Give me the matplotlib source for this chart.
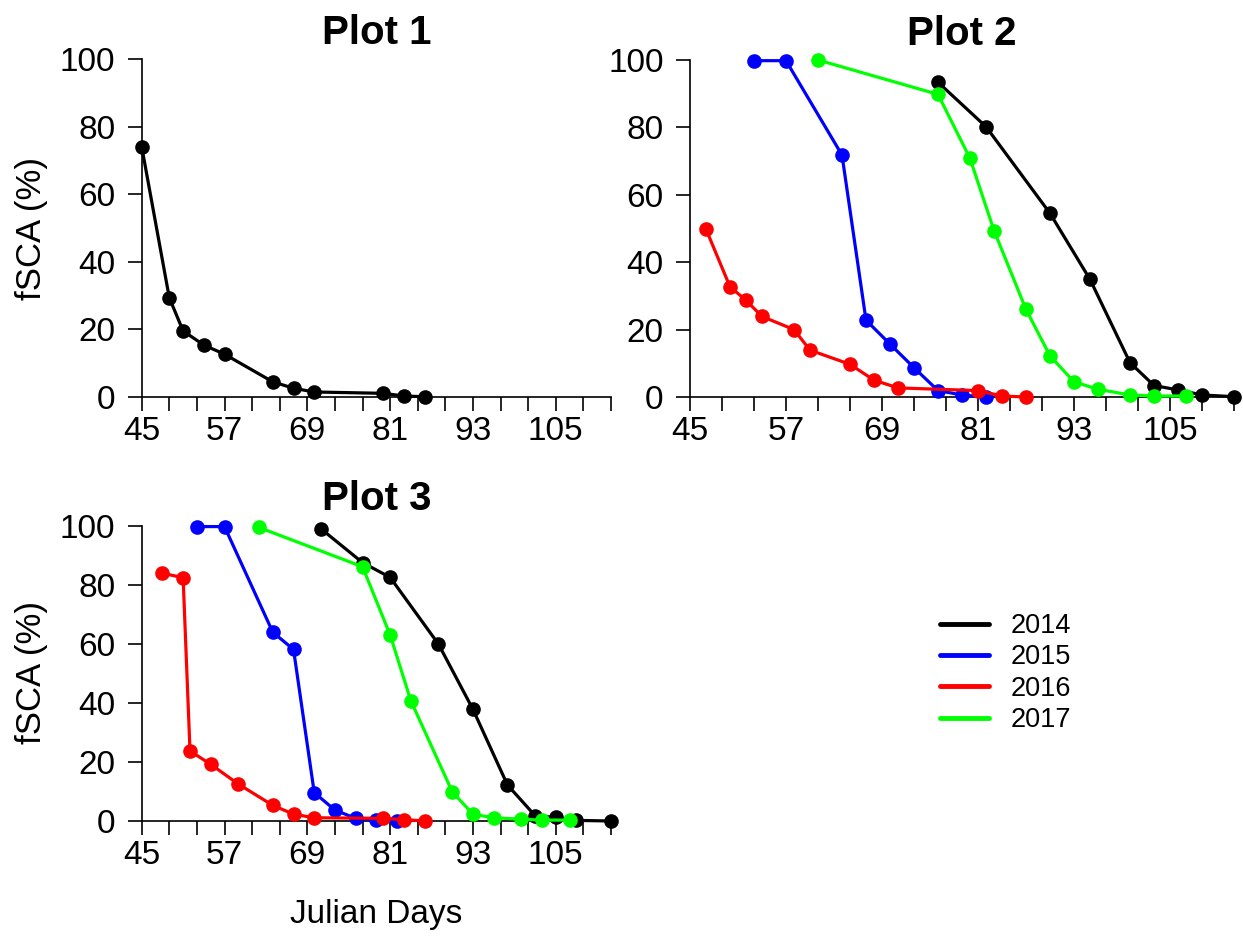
import matplotlib
matplotlib.use("Agg")
import matplotlib.pyplot as plt
from matplotlib.lines import Line2D

plt.rcParams['font.family'] = ['Liberation Sans', 'DejaVu Sans']

years = ["2014", "2015", "2016", "2017"]
colors = ["#000000", "#0000FF", "#FF0000", "#00FF00"]

# Plot 1 (only 2014)
p1_day = [45, 49, 51, 54, 57, 64, 67, 70, 80, 83, 86]
p1_fsca = [74.1, 29.3, 19.5, 15.3, 12.6, 4.4, 2.5, 1.4, 1.0, 0.2, 0.0]

# Plot 2
p2_2014_day = [76, 82, 90, 95, 100, 103, 106, 109, 113]
p2_2014_fsca = [93.4, 80.2, 54.5, 34.9, 10.2, 3.4, 2.1, 0.6, 0.1]
p2_2015_day = [53, 57, 64, 67, 70, 73, 76, 79, 82]
p2_2015_fsca = [99.8, 99.8, 71.8, 22.8, 15.7, 8.7, 1.9, 0.6, 0.0]
p2_2016_day = [47, 50, 52, 54, 58, 60, 65, 68, 71, 81, 84, 87]
p2_2016_fsca = [49.8, 32.7, 28.7, 23.9, 20.0, 13.9, 9.7, 5.0, 2.7, 1.9, 0.3, 0.0]
p2_2017_day = [61, 76, 80, 83, 87, 90, 93, 96, 100, 103, 107]
p2_2017_fsca = [100.0, 89.8, 70.8, 49.4, 26.0, 12.2, 4.5, 2.3, 0.6, 0.3, 0.3]

# Plot 3
p3_2014_day = [71, 77, 81, 88, 93, 98, 102, 105, 108, 113]
p3_2014_fsca = [98.9, 87.5, 82.5, 59.9, 37.8, 12.2, 1.8, 1.2, 0.2, 0.0]
p3_2015_day = [53, 57, 64, 67, 70, 73, 76, 79, 82]
p3_2015_fsca = [99.7, 99.7, 63.9, 58.1, 9.6, 3.7, 0.9, 0.3, 0.0]
p3_2016_day = [48, 51, 52, 55, 59, 64, 67, 70, 80, 83, 86]
p3_2016_fsca = [83.9, 82.4, 23.7, 19.2, 12.5, 5.3, 2.3, 1.1, 0.9, 0.5, 0.0]
p3_2017_day = [62, 77, 81, 84, 90, 93, 96, 100, 103, 107]
p3_2017_fsca = [99.4, 86.1, 63.0, 40.7, 9.9, 2.3, 1.1, 0.6, 0.3, 0.3]

x_ticks = list(range(45, 114, 4))
x_labels = ["45", "57", "69", "81", "93", "105"]
y_ticks = [0, 20, 40, 60, 80, 100]
titles = ["Plot 1", "Plot 2", "Plot 3"]

W, H = 1243, 943
fig = plt.figure(figsize=(W / 100, H / 100), dpi=100)


def ax_at(x0, y0, x1, y1):
    return fig.add_axes([x0 / W, 1 - y1 / H, (x1 - x0) / W, (y1 - y0) / H])


ax1 = ax_at(141.7, 59.3, 611.0, 396.7)
ax2 = ax_at(690.0, 60.0, 1234.0, 397.0)
ax3 = ax_at(141.7, 525.7, 611.0, 821.0)

series = {
    ax1: [(p1_day, p1_fsca, colors[0])],
    ax2: [(p2_2014_day, p2_2014_fsca, colors[0]),
          (p2_2015_day, p2_2015_fsca, colors[1]),
          (p2_2016_day, p2_2016_fsca, colors[2]),
          (p2_2017_day, p2_2017_fsca, colors[3])],
    ax3: [(p3_2014_day, p3_2014_fsca, colors[0]),
          (p3_2015_day, p3_2015_fsca, colors[1]),
          (p3_2016_day, p3_2016_fsca, colors[2]),
          (p3_2017_day, p3_2017_fsca, colors[3])],
}

for ax, title in zip([ax1, ax2, ax3], titles):
    for d, v, c in series[ax]:
        ax.plot(d, v, color=c, lw=2.3, marker='o', markersize=9.5,
                clip_on=False, zorder=3)
    ax.set_xlim(45, 113)
    ax.set_ylim(0, 100)
    ax.spines['top'].set_visible(False)
    ax.spines['right'].set_visible(False)
    for s in ['left', 'bottom']:
        ax.spines[s].set_linewidth(1.2)
    ax.set_xticks(x_ticks)
    ax.set_xticklabels([str(t) if str(t) in x_labels else "" for t in x_ticks])
    ax.set_yticks(y_ticks)
    ax.tick_params(axis='both', direction='out', length=10, width=1.2,
                   labelsize=24, colors='black')
    ax.tick_params(axis='x', pad=4)
    ax.tick_params(axis='y', pad=9)
    ax.set_title(title, fontsize=29, fontweight='bold', pad=11)
    ax.patch.set_alpha(0)

fig.text(32 / W, 1 - 228 / H, "fSCA (%)", rotation=90, ha='center',
         va='center', fontsize=25)
fig.text(32 / W, 1 - 673 / H, "fSCA (%)", rotation=90, ha='center',
         va='center', fontsize=25)
fig.text(376 / W, 1 - 915 / H, "Julian Days", ha='center', va='center',
         fontsize=24)

handles = [Line2D([], [], color=c, lw=3.5, solid_capstyle='round')
           for c in colors]
fig.legend(handles, years, loc='upper left',
           bbox_to_anchor=(940 / W, 1 - 613 / H), frameon=False,
           fontsize=19.5, handlelength=1.8, handletextpad=0.8,
           labelspacing=0.2, borderpad=0, borderaxespad=0)

fig.savefig("out.png", dpi=100)
